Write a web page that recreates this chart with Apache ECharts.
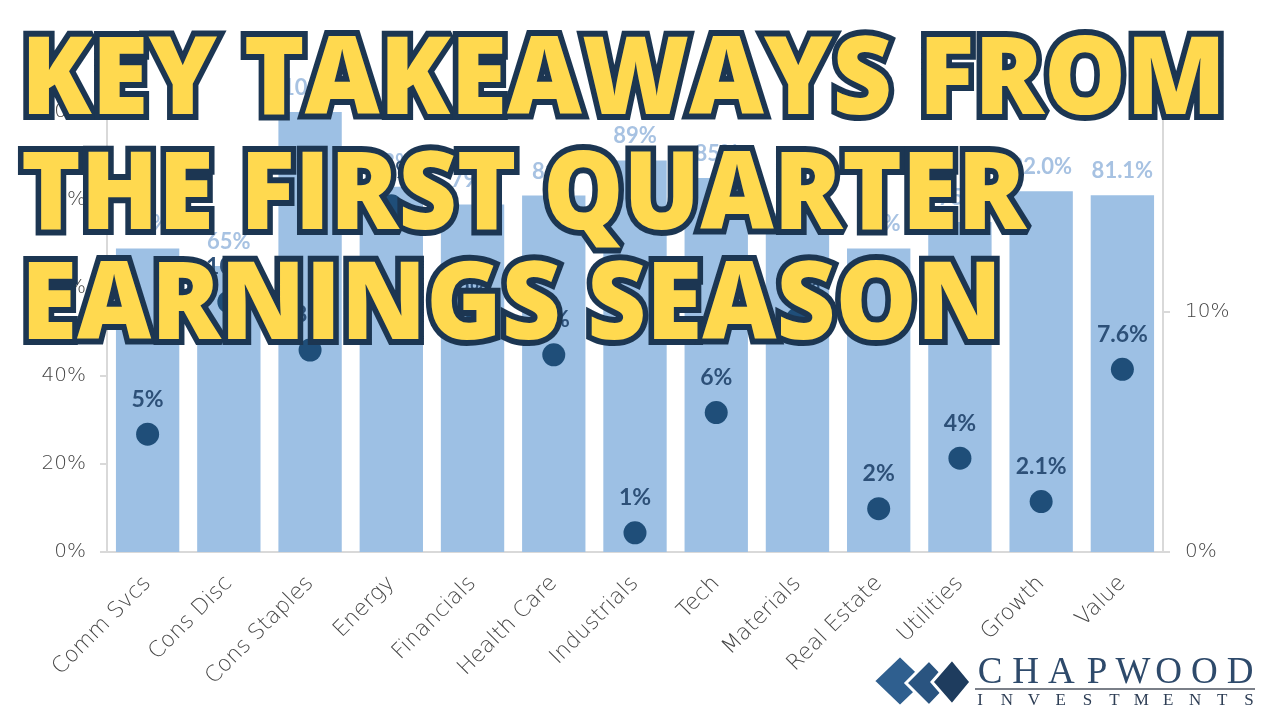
<!DOCTYPE html>
<html>
<head>
<meta charset="utf-8">
<script src="https://cdn.jsdelivr.net/npm/echarts@6/dist/echarts.min.js"></script>
<style>
  html, body { margin: 0; padding: 0; background: #fff; }
  #chart { width: 1280px; height: 720px; }
</style>
</head>
<body>
<div id="chart"></div>
<script>
/* ---------- data ---------- */
const categories = ["Comm Svcs", "Cons Disc", "Cons Staples", "Energy", "Financials", "Health Care",
  "Industrials", "Tech", "Materials", "Real Estate", "Utilities", "Growth", "Value"];
// % of companies beating estimates (left axis)
const beatRate = [69, 65, 100, 83, 79, 81, 89, 85, 77, 69, 75, 82.0, 81.1];
const beatDecimals = [0, 0, 0, 0, 0, 0, 0, 0, 0, 0, 0, 1, 1];
// earnings surprise (right axis)
const surprise = [4.9, 10.4, 8.4, 14.4, 9.4, 8.2, 0.8, 5.8, 9.7, 1.8, 3.9, 2.1, 7.6];
const surpriseDecimals = [0, 0, 0, 0, 0, 0, 0, 0, 0, 0, 0, 1, 1];
const leftAxis = { min: 0, max: 100, interval: 20 };
const rightAxis = { min: 0, max: 18.3, interval: 10 };
const titleLines = ["KEY TAKEAWAYS FROM", "THE FIRST QUARTER", "EARNINGS SEASON"];
const logoName = "CHAPWOOD";
const logoSub = "INVESTMENTS";

/* ---------- helpers ---------- */
const measureCtx = document.createElement("canvas").getContext("2d");
function textWidth(str, font) {
  measureCtx.font = font;
  return measureCtx.measureText(str).width;
}

const titleFont = '800 109px "Open Sans"';
const titleLayout = [
  { y: 83, left: 21, right: 1226 },
  { y: 198, left: 21, right: 1026 },
  { y: 308, left: 21, right: 1002 },
];
const titleGraphics = titleLines.map((t, i) => {
  const L = titleLayout[i];
  const sx = (L.right - L.left) / textWidth(t, titleFont);
  return {
    type: "text",
    x: L.left,
    y: L.y,
    scaleX: sx,
    z: 200,
    style: {
      text: t,
      font: titleFont,
      fill: "#ffd94f",
      stroke: "#1c3652",
      lineWidth: 12,
      textAlign: "left",
      textVerticalAlign: "middle",
    },
  };
});

/* logo: diamonds + spaced serif lettering */
const logoGraphics = [
  { type: "polygon", z: 200, shape: { points: [[874, 681], [900, 656], [926, 681], [900, 706]] },
    style: { fill: "#2f5f8f", stroke: "#fff", lineWidth: 2 } },
  { type: "polygon", z: 201, shape: { points: [[906, 683], [929, 660], [951, 683], [929, 706]] },
    style: { fill: "#2a5480", stroke: "#fff", lineWidth: 3 } },
  { type: "polygon", z: 202, shape: { points: [[932, 682], [952, 659], [971, 682], [952, 705]] },
    style: { fill: "#1e3c5e", stroke: "#fff", lineWidth: 3 } },
  { type: "line", z: 200, shape: { x1: 975, y1: 689, x2: 1255, y2: 689 },
    style: { stroke: "#7a7f88", lineWidth: 2 } },
];
function spacedLetters(str, x0, x1, y, font, color) {
  const step = (x1 - x0) / (str.length - 1);
  return str.split("").map((ch, i) => ({
    type: "text", z: 200, x: x0 + i * step, y: y,
    style: { text: ch, font: font, fill: color, textAlign: "center", textVerticalAlign: "middle" },
  }));
}
logoGraphics.push(...spacedLetters(logoName, 990, 1240, 673, '37px "Liberation Serif"', "#2e4a6b"));
logoGraphics.push(...spacedLetters(logoSub, 980, 1249, 701, '17px "Liberation Serif"', "#2e3e55"));

/* ---------- chart ---------- */
const chart = echarts.init(document.getElementById("chart"));
const axisGray = "#d9d9d9";
const labelFont = { fontFamily: "DejaVu Sans", fontWeight: 200, color: "#474747" };

chart.setOption({
  animation: false,
  backgroundColor: "#fff",
  grid: { left: 107, right: 117, top: 112, bottom: 168 },
  xAxis: {
    type: "category",
    data: categories,
    axisLine: { lineStyle: { color: axisGray, width: 2 } },
    axisTick: { show: false },
    axisLabel: { ...labelFont, fontSize: 22, rotate: 45, margin: 28, interval: 0 },
  },
  yAxis: [
    {
      type: "value",
      ...leftAxis,
      axisLine: { show: true, lineStyle: { color: axisGray, width: 2 } },
      axisTick: { show: true, length: 7, lineStyle: { color: axisGray, width: 2 } },
      splitLine: { show: false },
      axisLabel: { ...labelFont, fontSize: 20, margin: 21, formatter: "{value}%" },
    },
    {
      type: "value",
      position: "right",
      ...rightAxis,
      axisLine: { show: true, lineStyle: { color: axisGray, width: 2 } },
      axisTick: { show: true, length: 7, lineStyle: { color: axisGray, width: 2 } },
      splitLine: { show: false },
      axisLabel: { ...labelFont, fontSize: 20, margin: 22, formatter: "{value}%", showMaxLabel: false },
    },
  ],
  series: [
    {
      type: "bar",
      data: beatRate,
      barCategoryGap: "22%",
      itemStyle: { color: "#9dc0e4" },
      label: {
        show: true,
        position: "top",
        distance: 13,
        fontFamily: "Lato",
        fontWeight: "bold",
        fontSize: 22,
        color: "#a7c2e2",
        formatter: (p) => p.value.toFixed(beatDecimals[p.dataIndex]) + "%",
      },
    },
    {
      type: "scatter",
      yAxisIndex: 1,
      data: surprise,
      symbolSize: 23,
      itemStyle: { color: "#1f4e79", opacity: 1 },
      label: {
        show: true,
        position: "top",
        distance: 12,
        fontFamily: "Lato",
        fontWeight: "bold",
        fontSize: 23,
        color: "#2d5078",
        formatter: (p) => p.value.toFixed(surpriseDecimals[p.dataIndex]) + "%",
      },
    },
  ],
  graphic: [...titleGraphics, ...logoGraphics],
});
</script>
</body>
</html>
